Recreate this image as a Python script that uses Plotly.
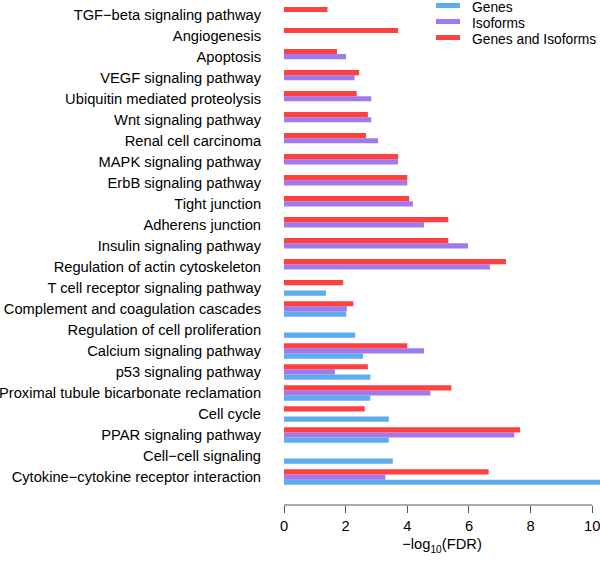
import plotly.graph_objects as go

# Categories from bottom to top
categories = [
    "Cytokine−cytokine receptor interaction",
    "Cell−cell signaling",
    "PPAR signaling pathway",
    "Cell cycle",
    "Proximal tubule bicarbonate reclamation",
    "p53 signaling pathway",
    "Calcium signaling pathway",
    "Regulation of cell proliferation",
    "Complement and coagulation cascades",
    "T cell receptor signaling pathway",
    "Regulation of actin cytoskeleton",
    "Insulin signaling pathway",
    "Adherens junction",
    "Tight junction",
    "ErbB signaling pathway",
    "MAPK signaling pathway",
    "Renal cell carcinoma",
    "Wnt signaling pathway",
    "Ubiquitin mediated proteolysis",
    "VEGF signaling pathway",
    "Apoptosis",
    "Angiogenesis",
    "TGF−beta signaling pathway",
]

genes = [10.6, 3.53, 3.40, 3.40, 2.80, 2.80, 2.56, 2.31, 2.02, 1.36,
         None, None, None, None, None, None, None, None, None, None, None, None, None]
isoforms = [3.29, None, 7.47, None, 4.75, 1.65, 4.54, None, 2.04, None,
            6.68, 5.97, 4.54, 4.18, 4.00, 3.70, 3.05, 2.83, 2.83, 2.29, 2.01, None, None]
genes_iso = [6.64, None, 7.66, 2.62, 5.43, 2.72, 4.00, None, 2.25, 1.92,
             7.20, 5.33, 5.33, 4.06, 4.00, 3.70, 2.66, 2.72, 2.36, 2.44, 1.72, 3.70, 1.41]

series_names = ["Genes", "Isoforms", "Genes and Isoforms"]
colors = ["#5CACEE", "#9F79EE", "#FF4040"]
x_ticks = [0, 2, 4, 6, 8, 10]

FONT = "Liberation Sans, Arial, Helvetica, sans-serif"
FS = 14.7
LFS = 13.8

W, H = 600, 572
ML, MR, MT, MB = 284, 0, 5, 67
PW, PH = W - ML - MR, H - MT - MB


def px2paper_x(px):
    return (px - ML) / PW


def px2paper_y(py):
    return 1 - (py - MT) / PH


fig = go.Figure()
for name, vals, col in zip(series_names, [genes, isoforms, genes_iso], colors):
    fig.add_trace(go.Bar(
        y=categories, x=vals, orientation="h", name=name,
        marker=dict(color=col, line=dict(width=0)),
        showlegend=False, cliponaxis=True,
    ))

fig.update_layout(
    width=W, height=H,
    margin=dict(l=ML, r=MR, t=MT, b=MB, pad=0),
    paper_bgcolor="white", plot_bgcolor="white",
    barmode="group", bargap=0.26, bargroupgap=0,
    font=dict(family=FONT, size=FS, color="black"),
    showlegend=False,
    xaxis=dict(
        range=[0, 10.25], tickvals=x_ticks, ticktext=[str(t) for t in x_ticks],
        ticks="outside", ticklen=7, tickwidth=1, tickcolor="#555555",
        showline=False, showgrid=False, zeroline=False, automargin=False,
        ticklabeloverflow="allow",
        title=dict(text="−log<sub>10</sub>(FDR)", standoff=6, font=dict(size=FS)),
        tickfont=dict(size=FS),
    ),
    yaxis=dict(
        type="category", categoryorder="array", categoryarray=categories,
        range=[-1.33, 22.46], automargin=False,
        showline=False, showgrid=False, zeroline=False,
        ticks="outside", ticklen=19, tickcolor="rgba(0,0,0,0)",
        tickfont=dict(size=FS),
    ),
)
# axis line from 0 to 10 only
fig.add_shape(type="line", xref="x", yref="paper", x0=0, x1=10, y0=0, y1=0,
              line=dict(color="#555555", width=1))

# manual legend (short thick lines + labels)
legend_y_px = [5.5, 21.5, 37.5]
for name, col, ypx in zip(series_names, colors, legend_y_px):
    yy = px2paper_y(ypx)
    fig.add_shape(type="line", xref="paper", yref="paper",
                  x0=px2paper_x(436), x1=px2paper_x(460), y0=yy, y1=yy,
                  line=dict(color=col, width=5))
    fig.add_annotation(xref="paper", yref="paper", x=px2paper_x(470),
                       y=px2paper_y(ypx + 1.5),
                       xanchor="left", yanchor="middle", text=name,
                       showarrow=False, font=dict(size=LFS, family=FONT, color="black"))

fig.write_html(
    "out.html",
    config={"displayModeBar": False},
    post_script="document.body.style.margin='0';document.body.style.padding='0';"
                "document.body.style.overflow='hidden';",
)
